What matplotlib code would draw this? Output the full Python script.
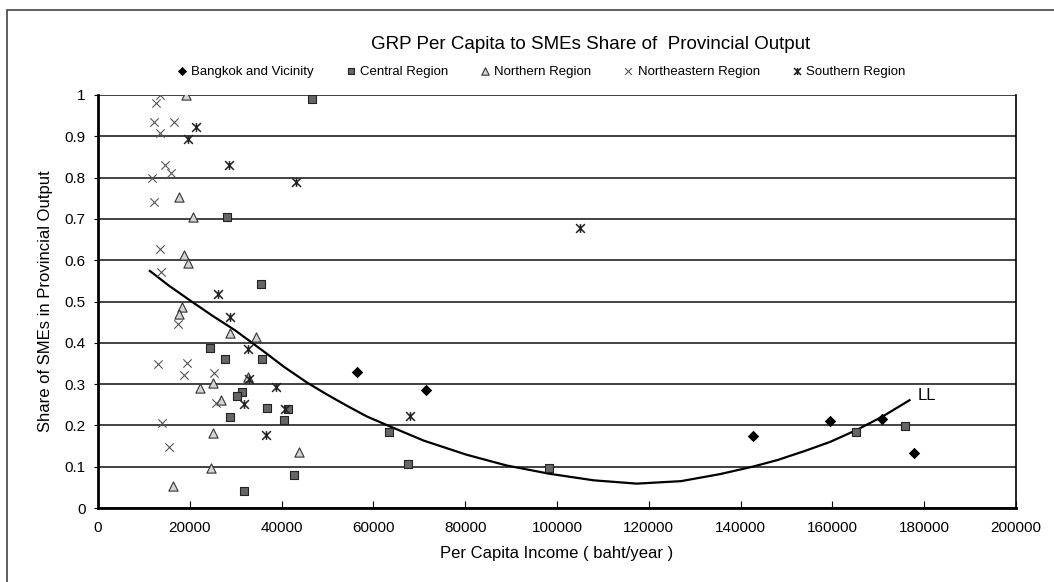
import numpy as np
import matplotlib
matplotlib.use('Agg')
import matplotlib.pyplot as plt
from matplotlib.path import Path
from matplotlib.patches import Rectangle

plt.rcParams['font.family'] = ['Liberation Sans', 'DejaVu Sans']

# Bangkok and Vicinity
bkk_x = [56400, 71400, 142600, 159500, 170800, 177700]
bkk_y = [0.330, 0.286, 0.174, 0.211, 0.215, 0.132]

# Central Region
cen_x = [46600, 28000, 35500, 24400, 27700, 35700, 31300, 30200, 36800, 28800,
         31800, 41300, 40500, 63300, 67500, 42600, 98300, 165200, 175900]
cen_y = [0.990, 0.705, 0.542, 0.388, 0.361, 0.361, 0.280, 0.272, 0.243, 0.220,
         0.042, 0.239, 0.213, 0.183, 0.106, 0.080, 0.096, 0.183, 0.198]

# Northern Region
nor_x = [19100, 17650, 20800, 18800, 19500, 18200, 17650, 28800, 34500, 22200,
         25100, 32600, 26700, 25100, 24600, 16300, 43700]
nor_y = [1.000, 0.754, 0.705, 0.612, 0.594, 0.486, 0.469, 0.424, 0.415, 0.290,
         0.303, 0.316, 0.262, 0.181, 0.096, 0.054, 0.135]

# Northeastern Region
ne_x = [13400, 12600, 12100, 16600, 13500, 14500, 15800, 11800, 12200, 13400,
        13700, 17500, 13000, 19300, 18700, 25300, 25600, 13900, 15500]
ne_y = [1.000, 0.981, 0.935, 0.934, 0.909, 0.830, 0.812, 0.798, 0.740, 0.626,
        0.572, 0.445, 0.349, 0.352, 0.323, 0.326, 0.255, 0.207, 0.147]

# Southern Region
sou_x = [21400, 19500, 28500, 43100, 105100, 68000, 26200, 28800, 32600, 32900,
         31800, 36600, 38800, 40800]
sou_y = [0.922, 0.893, 0.830, 0.789, 0.677, 0.223, 0.518, 0.463, 0.384, 0.312,
         0.252, 0.177, 0.294, 0.239]

# trend line "LL"
ll_x = [11300, 15500, 20000, 25000, 29900, 36000, 40500, 45500, 50000, 54000,
        58500, 63300, 71000, 80300, 89000, 98300, 108000, 117400, 127000,
        135500, 142600, 148000, 153700, 159500, 165300, 171000, 176800]
ll_y = [0.574, 0.538, 0.503, 0.465, 0.430, 0.380, 0.342, 0.304, 0.274, 0.249,
        0.222, 0.199, 0.163, 0.129, 0.103, 0.083, 0.067, 0.059, 0.065,
        0.082, 0.100, 0.116, 0.137, 0.160, 0.189, 0.222, 0.261]

xticks = np.arange(0, 200001, 20000)
yticks = np.round(np.arange(0, 1.01, 0.1), 1)
ytick_labels = ['0'] + ['%.1f' % v for v in yticks[1:-1]] + ['1']

# star marker: x with a vertical bar
star = Path([(-1, -1), (1, 1), (-1, 1), (1, -1), (0, -1), (0, 1)],
            [Path.MOVETO, Path.LINETO] * 3)

fig = plt.figure(figsize=(10.54, 5.82), dpi=100)
fig.patches.append(Rectangle((7 / 1054, -0.1), 1.2, 1.1 - 10 / 582, transform=fig.transFigure,
                             fill=False, edgecolor='#444444', linewidth=1.2))
ax = fig.add_axes([98 / 1054, 1 - 508 / 582, 918 / 1054, 413 / 582])

ax.plot(ll_x, ll_y, color='black', lw=1.6, zorder=2)
ax.text(178500, 0.272, 'LL', fontsize=12, ha='left', va='center')

ax.scatter(bkk_x, bkk_y, marker='D', s=34, c='black', lw=0, label='Bangkok and Vicinity', zorder=3)
ax.scatter(cen_x, cen_y, marker='s', s=36, c='#666666', edgecolors='#222222', lw=0.8,
           label='Central Region', zorder=3)
ax.scatter(nor_x, nor_y, marker='^', s=44, c='#d4d4d4', edgecolors='#333333', lw=0.8,
           label='Northern Region', zorder=3)
ax.scatter(ne_x, ne_y, marker='x', s=36, c='#555555', lw=0.8, label='Northeastern Region', zorder=3)
ax.scatter(sou_x, sou_y, marker=star, s=40, c='#222222', lw=1.1, label='Southern Region', zorder=3)

ax.set_xlim(0, 200000)
ax.set_ylim(0, 1)
ax.set_xticks(xticks)
ax.set_xticklabels([str(v) for v in xticks])
ax.set_yticks(yticks)
ax.set_yticklabels(ytick_labels)
ax.tick_params(axis='x', direction='in', length=5, labelsize=11, pad=9)
ax.tick_params(axis='y', direction='out', length=3, labelsize=11, pad=6)
ax.yaxis.grid(True, color='#222222', lw=1.2)
ax.set_axisbelow(True)
for s in ['left', 'bottom']:
    ax.spines[s].set_linewidth(2)
ax.spines['right'].set_linewidth(1.2)
ax.spines['top'].set_visible(False)

ax.set_xlabel('Per Capita Income ( baht/year )', fontsize=12, labelpad=8)
ax.set_ylabel('Share of SMEs in Provincial Output', fontsize=12, labelpad=8)

fig.text(0.56, 0.924, 'GRP Per Capita to SMEs Share of  Provincial Output', fontsize=13.5,
         ha='center', va='center')
fig.legend(loc='center', bbox_to_anchor=(0.512, 0.877), ncol=5, frameon=False, fontsize=9.5,
           handletextpad=0.1, columnspacing=2.2, markerscale=0.8, handlelength=1.2)

fig.savefig('out.png', dpi=100)
